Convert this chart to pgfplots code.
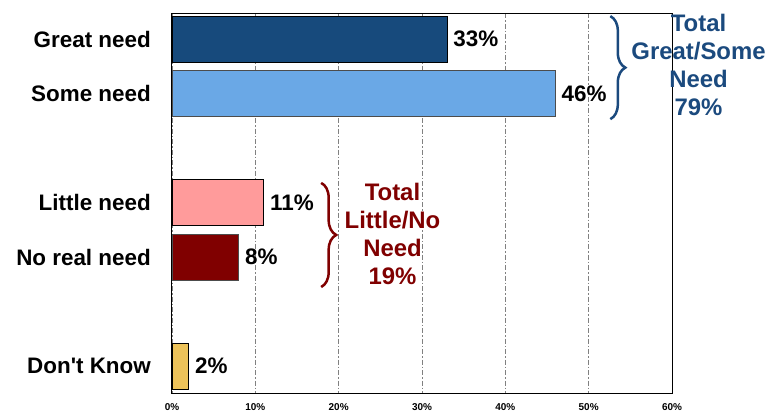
\documentclass[border=0pt]{standalone}
\usepackage{pgfplots}
\pgfplotsset{compat=1.18}
\usepackage{fontspec}
\setmainfont{Liberation Sans}
\usetikzlibrary{decorations.pathreplacing}
\definecolor{cGreat}{HTML}{174A7C}
\definecolor{cSome}{HTML}{6AA8E6}
\definecolor{cLittle}{HTML}{FF9B9B}
\definecolor{cNo}{HTML}{800000}
\definecolor{cDK}{HTML}{EDC35A}
\definecolor{tBlue}{HTML}{1B4A7E}
\definecolor{tRed}{HTML}{800000}
\begin{document}
\begin{tikzpicture}[x=1bp,y=1bp]
\begin{axis}[
  at={(0,0)}, anchor=south west,
  scale only axis, width=500bp, height=380bp,
  xbar, bar width=46bp, bar shift=0pt,
  xmin=0, xmax=60, ymin=-0.477, ymax=6.495,
  y dir=reverse,
  clip=false,
  xtick={0,10,20,30,40,50,60},
  xticklabels={0\%,10\%,20\%,30\%,40\%,50\%,60\%},
  ytick={0,1,3,4,6},
  yticklabels={Great need,Some need,Little need,No real need,Don\textquotesingle t Know},
  major tick length=0pt,
  xmajorgrids,
  grid style={gray, line width=0.9bp, dash pattern=on 5bp off 2bp on 1.5bp off 2bp},
  axis line style={black, line width=1bp},
  xticklabel style={font=\fontsize{10}{12}\selectfont\bfseries, inner sep=0pt, anchor=north, yshift=-10.5bp},
  yticklabel style={font=\fontsize{22.5}{26}\selectfont\bfseries, inner sep=0pt, anchor=east, xshift=-21bp},
  nodes near coords={\pgfmathprintnumber[assume math mode=true]{\pgfplotspointmeta}\%},
  every node near coord/.append style={font=\fontsize{22.5}{26}\selectfont\bfseries, black, inner sep=0pt, anchor=west, xshift=6bp},
]
\addplot[fill=cGreat, draw=black, line width=0.8bp] coordinates {(33,0)};
\addplot[fill=cSome, draw=black!70, line width=0.8bp] coordinates {(46,1)};
\addplot[fill=cLittle, draw=black, line width=0.8bp] coordinates {(11,3)};
\addplot[fill=cNo, draw=black!70, line width=0.8bp] coordinates {(8,4)};
\addplot[fill=cDK, draw=black, line width=0.8bp] coordinates {(2,6)};

\draw[tBlue, line width=2.5bp, decorate, decoration={brace, amplitude=15bp}]
  (axis cs:52.6,-0.42) -- (axis cs:52.6,1.47);
\node[tBlue, align=center, font=\fontsize{24}{28}\selectfont\bfseries, inner sep=0pt]
  at (axis cs:63.18,0.477) {Total\\Great/Some\\Need\\79\%};

\draw[tRed, line width=2.5bp, decorate, decoration={brace, amplitude=15bp}]
  (axis cs:17.9,2.64) -- (axis cs:17.9,4.55);
\node[tRed, align=center, font=\fontsize{24}{28}\selectfont\bfseries, inner sep=0pt]
  at (axis cs:26.46,3.578) {Total\\Little/No\\Need\\19\%};
\end{axis}
\path[use as bounding box] (-172,-20) rectangle (600,393);
\end{tikzpicture}
\end{document}
